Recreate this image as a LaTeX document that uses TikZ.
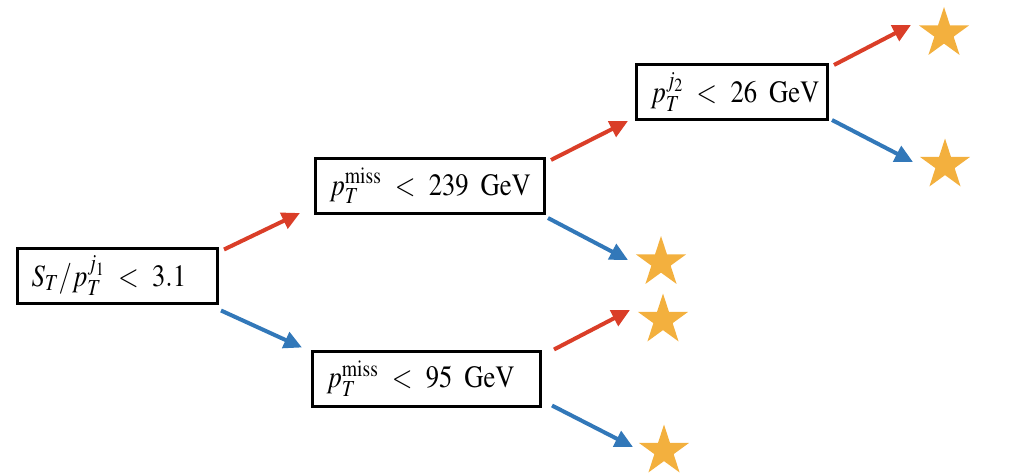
\documentclass[tikz,border=0pt]{standalone}
\usepackage{amsmath}
\usepackage{mathptmx}
\usepackage{fontspec}
\setmainfont{Liberation Serif}
\usetikzlibrary{shapes.geometric, arrows.meta}
\definecolor{cutRed}{RGB}{218,62,40}
\definecolor{cutBlue}{RGB}{50,120,185}
\definecolor{leafOrange}{RGB}{243,176,62}
\newcommand{\cutlabel}[1]{\scalebox{0.86}[1]{$\thickmuskip=9mu #1$}}
\tikzset{
	cut/.style={
		draw,
		line width=3pt,
		minimum height=55pt,
		inner xsep=14pt,
		align=left,
		font=\fontsize{31}{36}\selectfont
	},
	leaf/.style={
		star,
		star points=5,
		star point ratio=2.618,
		fill=leafOrange,
		minimum size=53pt,
		inner sep=0pt
	},
	passArrow/.style={
		draw=cutRed,
		line width=4pt,
		-{Triangle[length=18pt,width=17pt]}
	},
	failArrow/.style={
		draw=cutBlue,
		line width=4pt,
		-{Triangle[length=18pt,width=17pt]}
	},
}

\begin{document}
\begin{tikzpicture}[x=1pt,y=-1pt]
	\useasboundingbox (0,0) rectangle (1014,476);

	% cuts
	\node [cut, text width=172pt] (stCut) at (117.5,275.5) {\cutlabel{S_T/p_T^{j_1} < 3.1}};
	\node [cut, text width=201pt] (metHigh) at (430,186) {\cutlabel{p_T^{\mathrm{miss}} < 239\ \,\mathrm{GeV}}};
	\node [cut, text width=163pt] (jetCut) at (732,92) {\cutlabel{p_T^{j_2} < 26\ \,\mathrm{GeV}}};
	\node [cut, text width=200pt] (metLow) at (426.5,378.5) {\cutlabel{p_T^{\mathrm{miss}} < 95\ \,\mathrm{GeV}}};

	% leaves
	\node [leaf] (leafA) at (944,33.5) {};
	\node [leaf] (leafB) at (945,165) {};
	\node [leaf] (leafC) at (661,262.5) {};
	\node [leaf] (leafD) at (663,320) {};
	\node [leaf] (leafE) at (664,451) {};

	% first cut
	\draw [passArrow] ([xshift=5pt,yshift=-3pt]stCut.north east) -- ([xshift=-14pt,yshift=2pt]metHigh.south west);
	\draw [failArrow] ([xshift=2pt,yshift=-6pt]stCut.south east) -- ([xshift=-9pt,yshift=2pt]metLow.north west);

	% upper branch
	\draw [passArrow] ([xshift=5pt,yshift=-3pt]metHigh.north east) -- ([xshift=-7pt]jetCut.south west);
	\draw [failArrow] ([xshift=2pt,yshift=-3pt]metHigh.south east) -- ([xshift=-33pt,yshift=2.5pt]leafC.center);
	\draw [passArrow] ([xshift=5pt,yshift=-2pt]jetCut.north east) -- ([xshift=-33pt,yshift=8.5pt]leafA.center);
	\draw [failArrow] ([xshift=3pt,yshift=1pt]jetCut.south east) -- ([xshift=-32pt,yshift=3pt]leafB.center);

	% lower branch
	\draw [passArrow] ([xshift=12pt]metLow.north east) -- ([xshift=-33pt,yshift=10pt]leafD.center);
	\draw [failArrow] ([xshift=10pt,yshift=2pt]metLow.south east) -- ([xshift=-31pt,yshift=4pt]leafE.center);
\end{tikzpicture}
\end{document}
